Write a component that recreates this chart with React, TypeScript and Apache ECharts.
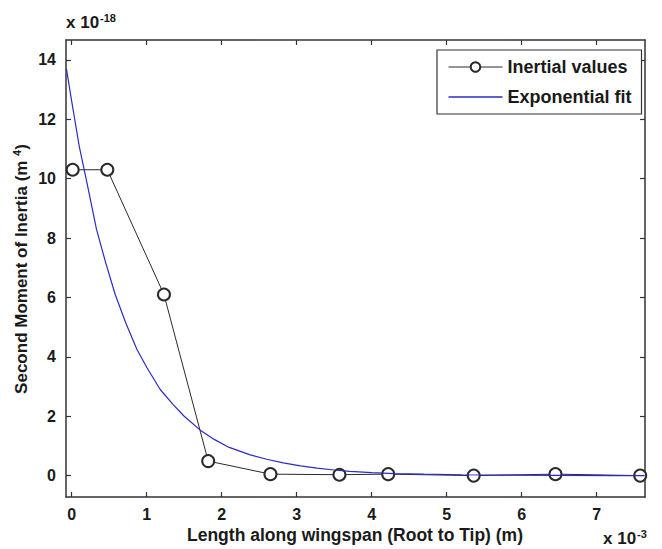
import React, { useEffect, useRef } from "react";
import * as echarts from "echarts";

const xTicks = [0, 1, 2, 3, 4, 5, 6, 7];
const yTicks = [0, 2, 4, 6, 8, 10, 12, 14];

// Inertial values (x in 1e-3 m, y in 1e-18 m^4)
const inertialX = [0.013, 0.475, 1.23, 1.82, 2.65, 3.57, 4.22, 5.36, 6.45, 7.58];
const inertialY = [10.3, 10.3, 6.1, 0.49, 0.05, 0.03, 0.05, 0.0, 0.05, 0.0];

// Exponential fit, points
const fitX = [-0.07, 0.0, 0.1, 0.2, 0.33, 0.45, 0.58, 0.72, 0.87, 1.0, 1.18, 1.35, 1.5, 1.71, 1.9, 2.1, 2.38, 2.6, 2.82, 3.05, 3.27, 3.5, 3.71, 4.0, 4.3, 4.7, 5.2, 5.8, 6.5, 7.2, 7.64];
const fitY = [13.7, 12.6, 11.1, 9.9, 8.3, 7.2, 6.1, 5.15, 4.25, 3.65, 2.9, 2.4, 2.0, 1.54, 1.22, 0.95, 0.7, 0.55, 0.43, 0.33, 0.25, 0.19, 0.14, 0.1, 0.07, 0.05, 0.03, 0.02, 0.01, 0.0, 0.0];

const FONT = "'Liberation Sans', Arial, sans-serif";
const TXT = "#1a1a1a";
const AX = "#333333";

export default function App() {
  const ref = useRef<HTMLDivElement>(null);
  useEffect(() => {
    if (!ref.current) return;
    const chart = echarts.init(ref.current, undefined, { renderer: "svg" });
    const xMin = -0.076, xMax = 7.644, yMin = -0.72, yMax = 14.67;
    const axisCommon = {
      axisLine: { show: true, onZero: false, lineStyle: { color: AX, width: 1.5 } },
      splitLine: { show: false },
    };
    const tickStyle = { color: AX, width: 1.2 };
    chart.setOption({
      animation: false,
      backgroundColor: "#ffffff",
      grid: { left: 66, right: 17, top: 40, bottom: 52, containLabel: false },
      legend: {
        left: 437,
        top: 50,
        orient: "vertical",
        backgroundColor: "#ffffff",
        borderColor: AX,
        borderWidth: 1.2,
        padding: [8, 10, 8, 11],
        itemWidth: 54,
        itemHeight: 12,
        itemGap: 12,
        lineStyle: { width: 1 },
        itemStyle: { borderWidth: 1 },
        textStyle: { fontFamily: FONT, fontWeight: "bold", fontSize: 18, color: TXT },
        data: [
          { name: "Inertial values" },
          { name: "Exponential fit", icon: "path://M0,0 L54,0 L54,1.3 L0,1.3 Z" },
        ],
      },
      xAxis: [
        {
          type: "value",
          min: xMin,
          max: xMax,
          ...axisCommon,
          axisTick: { show: true, inside: true, length: 5, lineStyle: tickStyle, customValues: xTicks },
          axisLabel: {
            show: true,
            customValues: xTicks,
            margin: 9,
            fontFamily: FONT,
            fontWeight: "bold",
            fontSize: 16,
            color: TXT,
          },
        },
        {
          type: "value",
          position: "top",
          min: xMin,
          max: xMax,
          ...axisCommon,
          axisTick: { show: true, inside: true, length: 5, lineStyle: tickStyle, customValues: xTicks },
          axisLabel: { show: false },
        },
      ],
      yAxis: [
        {
          type: "value",
          min: yMin,
          max: yMax,
          ...axisCommon,
          axisTick: { show: true, inside: true, length: 5, lineStyle: tickStyle, customValues: yTicks },
          axisLabel: {
            show: true,
            customValues: yTicks,
            margin: 10,
            fontFamily: FONT,
            fontWeight: "bold",
            fontSize: 16,
            color: TXT,
          },
        },
        {
          type: "value",
          position: "right",
          min: yMin,
          max: yMax,
          ...axisCommon,
          axisTick: { show: true, inside: true, length: 5, lineStyle: tickStyle, customValues: yTicks },
          axisLabel: { show: false },
        },
      ],
      series: [
        {
          name: "Inertial values",
          type: "line",
          data: inertialX.map((x, i) => [x, inertialY[i]]),
          symbol: "emptyCircle",
          symbolSize: 12,
          showAllSymbol: true,
          lineStyle: { color: "#2a2a2a", width: 1 },
          itemStyle: { color: "#2a2a2a", borderColor: "#2a2a2a", borderWidth: 1 },
          z: 2,
        },
        {
          name: "Exponential fit",
          type: "line",
          data: fitX.map((x, i) => [x, fitY[i]]),
          showSymbol: false,
          symbol: "none",
          smooth: false,
          lineStyle: { color: "#2b2bc4", width: 1.2 },
          itemStyle: { color: "#2b2bc4" },
          z: 3,
        },
      ],
      graphic: [
        {
          type: "text",
          left: 66,
          top: 12,
          style: {
            text: "x 10{sup|-18}",
            fontFamily: FONT,
            fontWeight: "bold",
            fontSize: 17,
            fill: TXT,
            rich: { sup: { fontSize: 11, fontWeight: "bold", fontFamily: FONT, verticalAlign: "top", padding: [0, 0, 9, 1], fill: TXT } },
          },
        },
        {
          type: "text",
          left: 603,
          top: 528,
          style: {
            text: "x 10{sup|-3}",
            fontFamily: FONT,
            fontWeight: "bold",
            fontSize: 17,
            fill: TXT,
            rich: { sup: { fontSize: 11, fontWeight: "bold", fontFamily: FONT, verticalAlign: "top", padding: [0, 0, 9, 1], fill: TXT } },
          },
        },
        {
          type: "text",
          x: 355,
          y: 535,
          style: {
            text: "Length along wingspan (Root to Tip) (m)",
            fontFamily: FONT,
            fontWeight: "bold",
            fontSize: 17.5,
            fill: TXT,
            align: "center",
            verticalAlign: "middle",
          },
        },
        {
          type: "text",
          x: 21,
          y: 269,
          rotation: Math.PI / 2,
          style: {
            text: "Second Moment of Inertia (m {sup|4})",
            fontFamily: FONT,
            fontWeight: "bold",
            fontSize: 17,
            fill: TXT,
            align: "center",
            verticalAlign: "middle",
            rich: { sup: { fontSize: 11, fontWeight: "bold", fontFamily: FONT, padding: [0, 0, 9, 0], fill: TXT } },
          },
        },
      ],
    });
    return () => chart.dispose();
  }, []);
  return <div ref={ref} style={{ width: 662, height: 549, position: "absolute", left: 0, top: 0 }} />;
}
